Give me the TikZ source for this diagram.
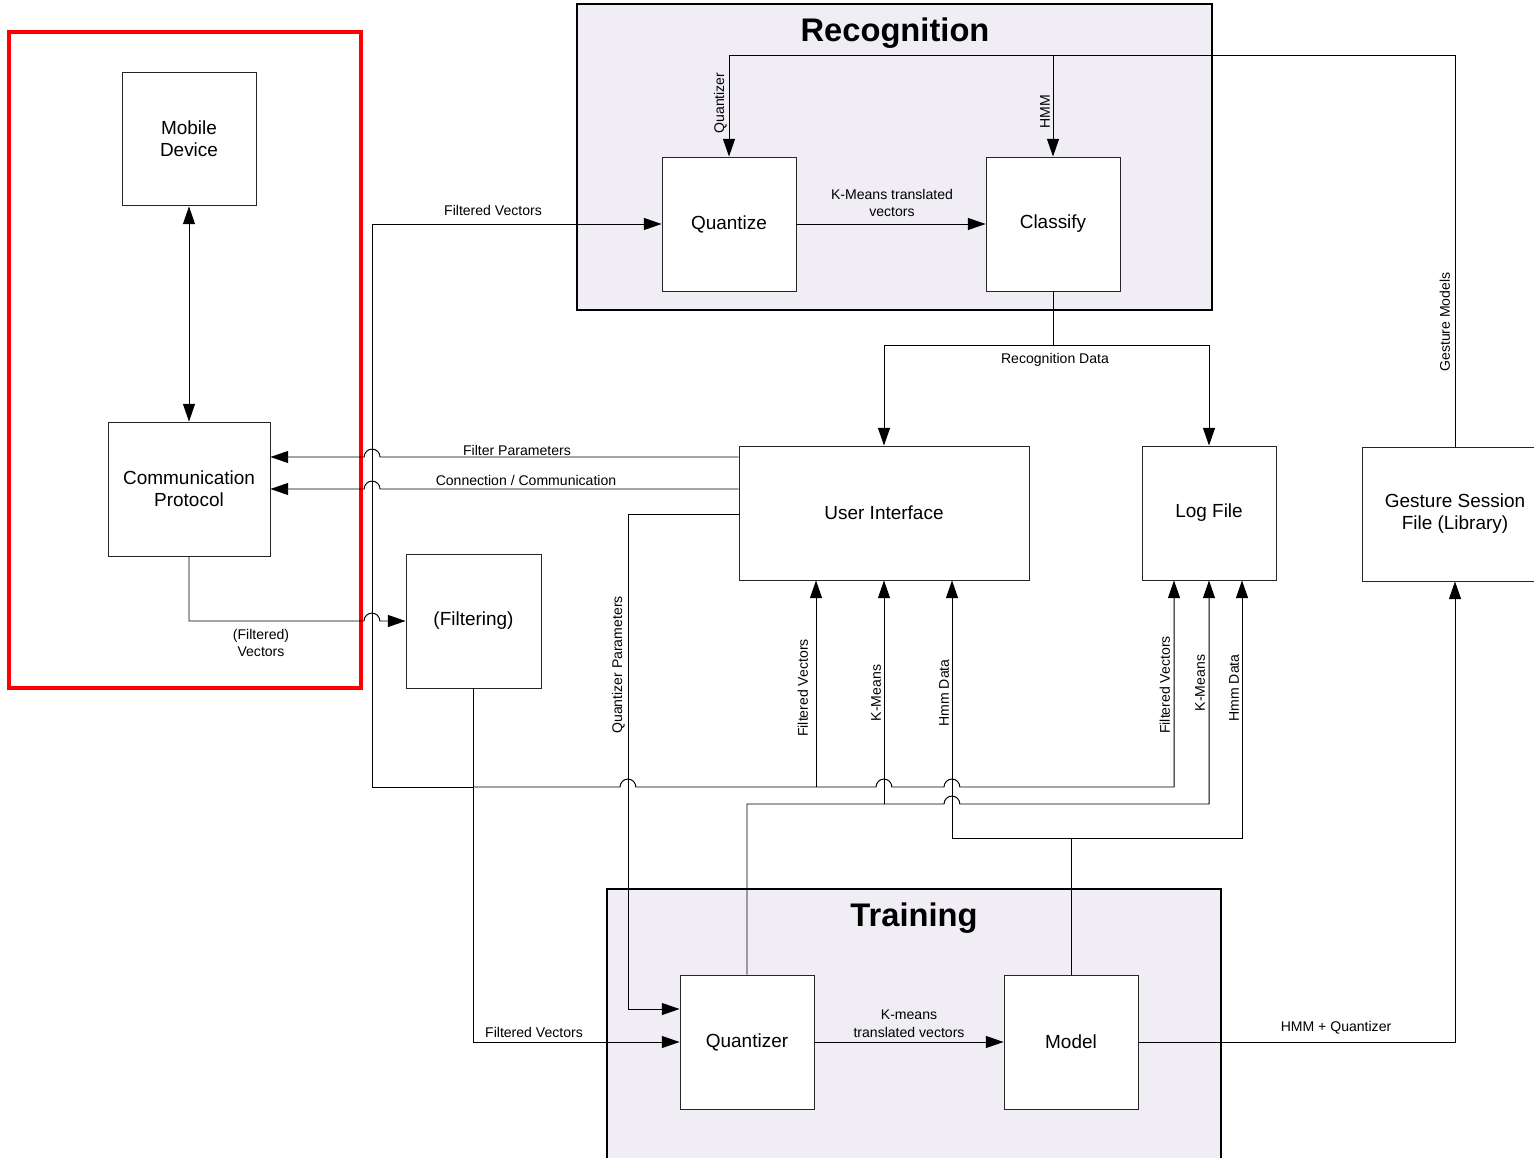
\documentclass[tikz,border=0pt]{standalone}
\usepackage{fontspec}
\setmainfont{Liberation Sans}
\usetikzlibrary{arrows.meta}
\definecolor{panel}{RGB}{240,238,244}
\tikzset{l/.style={font=\fontsize{8}{10}\selectfont,inner sep=1.5pt,align=center}}
\tikzset{blk/.style={draw=black!85,fill=white,line width=0.55pt,minimum width=2.68cm,minimum height=2.68cm,align=center,font=\fontsize{10.8}{12.5}\selectfont}}
\tikzset{t/.style={font=\fontsize{18.6}{20}\selectfont\bfseries}}

\begin{document}
\begin{tikzpicture}[x=0.02cm,y=-0.02cm,line width=0.55pt,>={Triangle[length=10pt,width=6.8pt]}]
        \clip (0,0) rectangle (1534,1158);
        % panels
        \filldraw[fill=panel,draw=black,line width=1.2pt](577,4) rectangle (1212,310);
        \filldraw[fill=panel,draw=black,line width=1.2pt](607,889) rectangle (1221,1180);
        \node[t] (rec) at (895,33) {Recognition};
        \node[t] (trn) at (914,918) {Training};
        \draw[red,line width=2.4pt](9,32) rectangle (361,688);
        % blocks
        \node[blk] (mobile) at (189,139) {Mobile\\Device};
        \node[blk,minimum width=3.24cm] (comm) at (189,489) {Communication\\Protocol};
        \node[blk,minimum width=2.7cm] (filt) at (473.5,621) {(Filtering)};
        \node[blk] (quantize) at (729,224) {Quantize};
        \node[blk] (classify) at (1053,224) {Classify};
        \node[blk,minimum width=5.8cm] (ui) at (884,513) {User Interface};
        \node[blk] (log) at (1209,513) {Log File};
        \node[blk,minimum width=3.72cm] (gesture) at (1455,514) {Gesture Session\\File (Library)};
        \node[blk] (quantizer) at (747,1042) {Quantizer};
        \node[blk] (model) at (1071,1042) {Model};
        % device and protocol
        \draw[<->] (mobile) -- (comm);
        \draw[->] (ui.west |- 0,457) -- (380,457) arc[start angle=0,end angle=180,radius=4.5pt] -- (comm.east |- 0,457);
        \node[l] at (517,450) {Filter Parameters};
        \draw[->] (ui.west |- 0,489) -- (380,489) arc[start angle=0,end angle=180,radius=4.5pt] -- (comm.east |- 0,489);
        \node[l] at (526,480) {Connection / Communication};
        \draw[->] (comm.south) -- (189,621) -- (364,621) arc[start angle=180,end angle=0,radius=4.5pt] -- (filt.west);
        \node[l] at (261,643) {(Filtered)\\Vectors};
        % recognition
        \draw[->] (quantize) -- (classify);
        \node[l] at (892,203) {K-Means translated\\vectors};
        \draw[->] (gesture.north) -- (1455,55) -- (729,55) -- (quantize.north);
        \draw[->] (1053,55) -- (classify.north);
        \node[l,rotate=90,anchor=south] at (1453,322) {Gesture Models};
        \node[l,rotate=90,anchor=south] at (730,103) {Quantizer};
        \node[l,rotate=90,anchor=south] at (1053,112) {HMM};
        \draw[->] (classify.south) -- (1053,345) -| (ui.north);
        \draw[->] (1053,345) -| (log.north);
        \node[l] at (1055,360) {Recognition Data};
        % filtered vectors
        \draw[->] (filt.south) |- (quantizer.west);
        \node[l] at (534,1032) {Filtered Vectors};
        \draw[->] (473,787) -- (372,787) -- (372,224) -- (quantize.west);
        \node[l] at (493,210) {Filtered Vectors};
        \draw[->] (473,787) -- (620,787) arc[start angle=180,end angle=0,radius=4.5pt] -- (876,787) arc[start angle=180,end angle=0,radius=4.5pt]
          -- (944,787) arc[start angle=180,end angle=0,radius=4.5pt] -- (1174,787) -- (1174,0 |- log.south);
        \draw[->] (816,787) -- (816,0 |- ui.south);
        \node[l,rotate=90,anchor=south] at (811,688) {Filtered Vectors};
        \node[l,rotate=90,anchor=south] at (1173,685) {Filtered Vectors};
        % k-means
        \draw[->] (quantizer.north) -- (747,804) -- (944,804) arc[start angle=180,end angle=0,radius=4.5pt] -- (1209,804) -- (log.south);
        \draw[->] (884,804) -- (ui.south);
        \node[l,rotate=90,anchor=south] at (884,693) {K-Means};
        \node[l,rotate=90,anchor=south] at (1208,683) {K-Means};
        % hmm data
        \draw[->] (model.north) -- (1071,838) -- (952,838) -- (952,0 |- ui.south);
        \draw[->] (1071,838) -- (1242,838) -- (1242,0 |- log.south);
        \node[l,rotate=90,anchor=south] at (952,693) {Hmm Data};
        \node[l,rotate=90,anchor=south] at (1242,688) {Hmm Data};
        % quantizer parameters
        \draw[->] (ui.west |- 0,514) -- (628,514) -- (628,1009) -- (quantizer.west |- 0,1009);
        \node[l,rotate=90,anchor=south] at (628,665) {Quantizer Parameters};
        % training
        \draw[->] (quantizer) -- (model);
        \node[l] at (909,1024) {K-means\\translated vectors};
        \draw[->] (model.east) -| (gesture.south);
        \node[l] at (1336,1028) {HMM + Quantizer};
\end{tikzpicture}
\end{document}
